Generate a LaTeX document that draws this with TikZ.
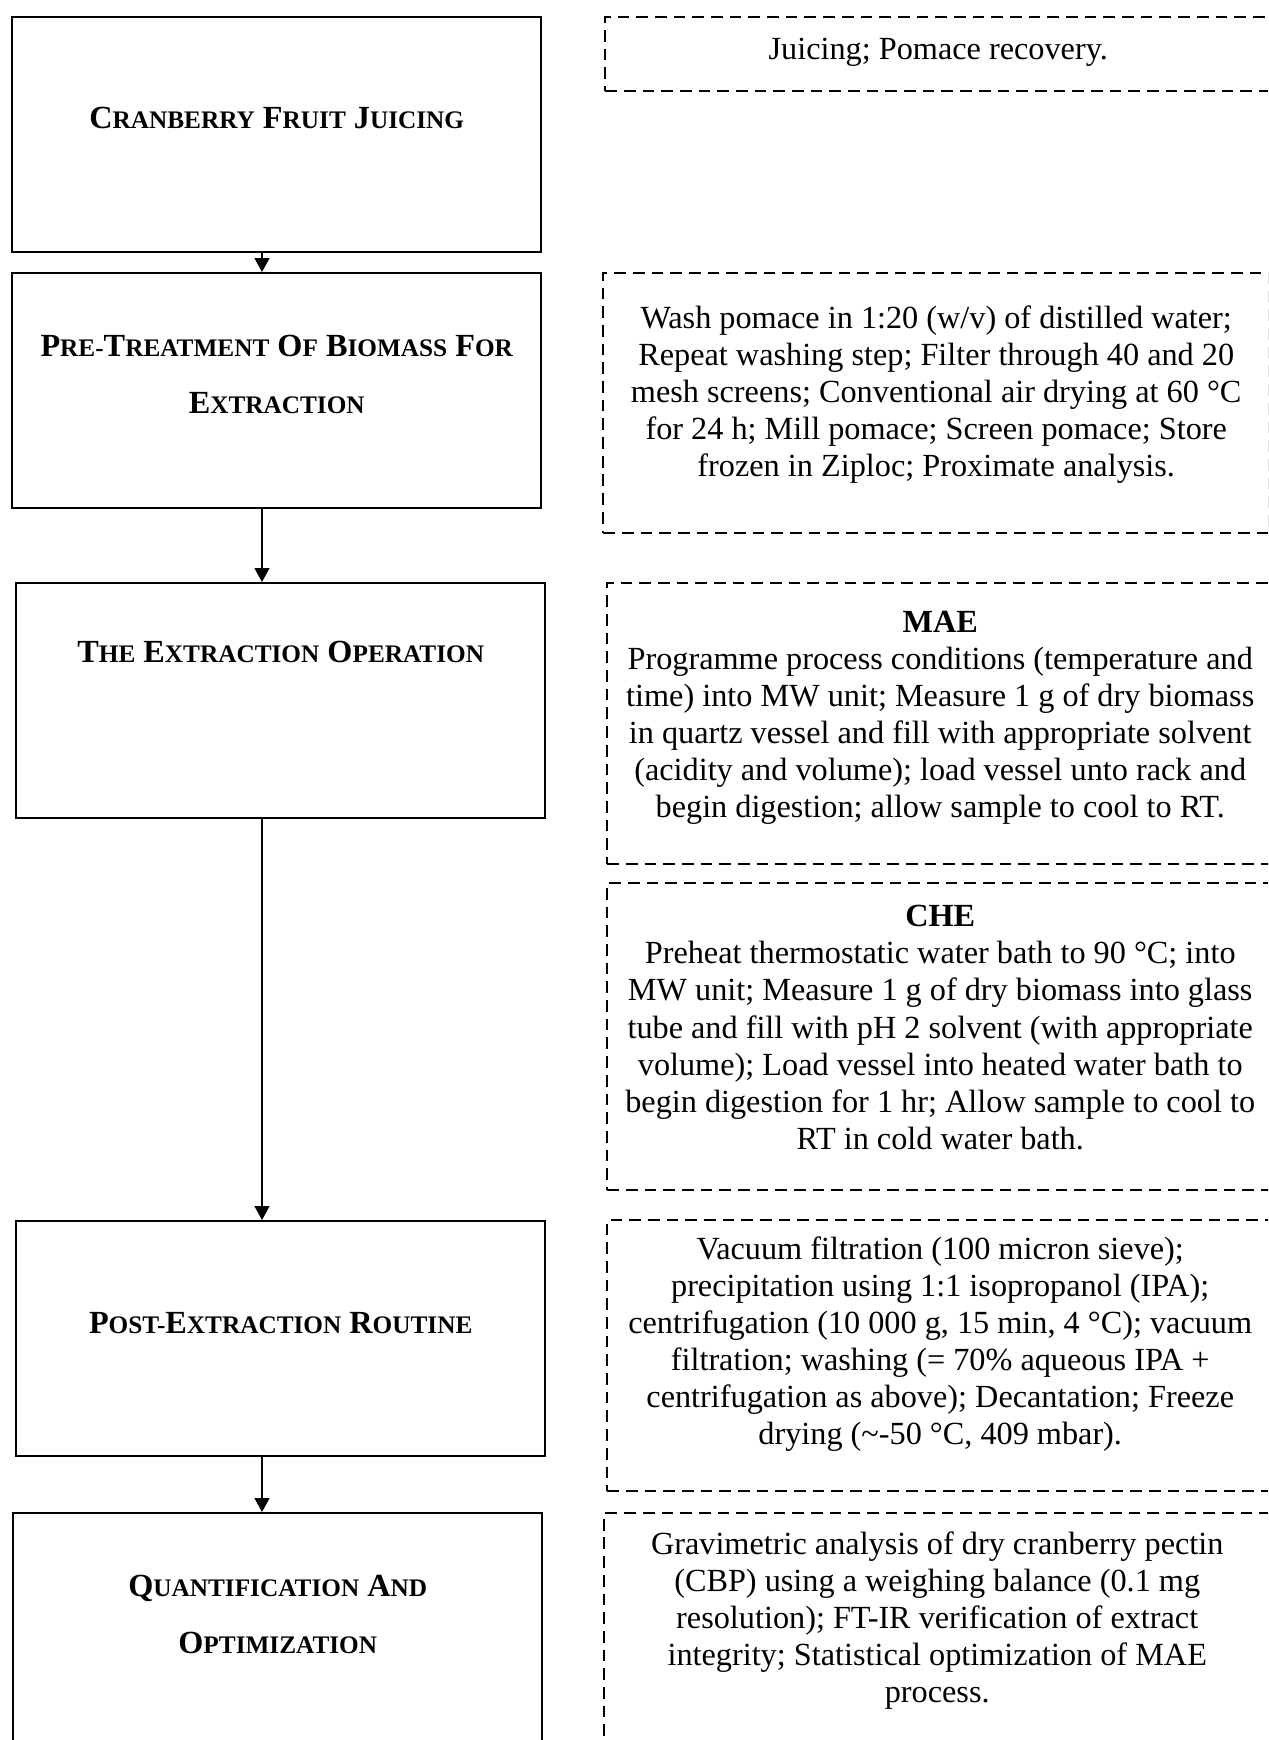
\documentclass[tikz,border=0pt]{standalone}
\usepackage{fontspec}
\setmainfont{Liberation Serif}
\usetikzlibrary{arrows.meta, positioning, calc}

% small capitals by hand (Liberation Serif has none)
\newcommand{\sck}[1]{{\fontsize{9.4}{9.4}\selectfont #1}}

\begin{document}
\begin{tikzpicture}[
    x=0.372pt, y=-0.372pt,
    stagebox/.style={
      rectangle, draw, line width=0.9pt,
      minimum width=196.8pt, minimum height=87.4pt,
      anchor=north west, inner sep=0pt
    },
    stagetitle/.style={
      font=\bfseries\fontsize{12}{21.2}\selectfont, align=center, inner sep=0pt
    },
    notebox/.style={
      rectangle, draw, line width=0.85pt, dash pattern=on 4.35pt off 2.6pt,
      minimum width=247.8pt, anchor=north west, inner sep=0pt
    },
    notetext/.style={
      font=\fontsize{12}{13.8}\selectfont, align=center,
      inner sep=0pt, execute at begin node=\strut
    },
    arr/.style={-{Triangle[length=5.2pt, width=5.6pt]}, line width=0.45pt},
  ]

  \path[use as bounding box] (0,0) rectangle (1268,1740);
  \clip (0,0) rectangle (1268,1740);

  % Stages (left column), all boxes of one size
  \node[stagebox] (juice)    at (11,15.6) {};
  \node[stagebox] (pretreat) at (11,272)  {};
  \node[stagebox] (extract)  at (15,582)  {};
  \node[stagebox] (post)     at (15,1220) {};
  \node[stagebox] (quant)    at (12,1512) {};

  \node[stagetitle, yshift=6pt] (juicet) at (juice.center)
    {C\sck{RANBERRY} F\sck{RUIT} J\sck{UICING}};
  \node[stagetitle, yshift=6pt] (pretreatt) at (pretreat.center)
    {P\sck{RE-}T\sck{REATMENT} O\sck{F} B\sck{IOMASS} F\sck{OR}\\ E\sck{XTRACTION}};
  \node[stagetitle, yshift=18pt] (extractt) at (extract.center)
    {T\sck{HE} E\sck{XTRACTION} O\sck{PERATION}};
  \node[stagetitle, yshift=6pt] (postt) at (post.center)
    {P\sck{OST-}E\sck{XTRACTION} R\sck{OUTINE}};
  \node[stagetitle, yshift=6pt] (quantt) at (quant.center)
    {Q\sck{UANTIFICATION} A\sck{ND}\\ O\sck{PTIMIZATION}};

  % Arrows run a little left of the box centres
  \coordinate (ax) at (262,0);
  \draw[arr] (juice.south -| ax) -- (pretreat.north -| ax);
  \draw[arr] (pretreat.south -| ax) -- (extract.north -| ax);
  \draw[arr] (extract.south -| ax) -- (post.north -| ax);
  \draw[arr] (post.south -| ax) -- (quant.north -| ax);

  % Notes (right column), cut by the right edge of the page
  \node[notebox, minimum height=27.7pt]  (juicen)    at (604,15.6) {};
  \node[notebox, minimum height=96.7pt]  (pretreatn) at (602,272)  {};
  \node[notebox, minimum height=104.5pt] (maen)      at (606,582)  {};
  \node[notebox, minimum height=114.2pt] (chen)      at (606,882)  {};
  \node[notebox, minimum height=100.8pt] (postn)     at (606,1219) {};
  \node[notebox, minimum height=100pt]   (quantn)    at (603,1512) {};

  \node[notetext, below=6.5pt of juicen.north] (juicex) {Juicing; Pomace recovery.};
  \node[notetext, below=12.3pt of pretreatn.north] (pretreatx)
    {Wash pomace in 1:20 (w/v) of distilled water;\\
     Repeat washing step; Filter through 40 and 20\\
     mesh screens; Conventional air drying at 60 °C\\
     for 24 h; Mill pomace; Screen pomace; Store\\
     frozen in Ziploc; Proximate analysis.};
  \node[notetext, below=10.5pt of maen.north] (maex)
    {\textbf{MAE}\\
     Programme process conditions (temperature and\\
     time) into MW unit; Measure 1 g of dry biomass\\
     in quartz vessel and fill with appropriate solvent\\
     (acidity and volume); load vessel unto rack and\\
     begin digestion; allow sample to cool to RT.};
  \node[notetext, below=8.5pt of chen.north] (chex)
    {\textbf{CHE}\\
     Preheat thermostatic water bath to 90 °C; into\\
     MW unit; Measure 1 g of dry biomass into glass\\
     tube and fill with pH 2 solvent (with appropriate\\
     volume); Load vessel into heated water bath to\\
     begin digestion for 1 hr; Allow sample to cool to\\
     RT in cold water bath.};
  \node[notetext, below=6.3pt of postn.north] (postx)
    {Vacuum filtration (100 micron sieve);\\
     precipitation using 1:1 isopropanol (IPA);\\
     centrifugation (10 000 g, 15 min, 4 °C); vacuum\\
     filtration; washing (= 70\% aqueous IPA +\\
     centrifugation as above); Decantation; Freeze\\
     drying (\textasciitilde-50 °C, 409 mbar).};
  \node[notetext, below=7.1pt of quantn.north] (quantx)
    {Gravimetric analysis of dry cranberry pectin\\
     (CBP) using a weighing balance (0.1 mg\\
     resolution); FT-IR verification of extract\\
     integrity; Statistical optimization of MAE\\
     process.};

\end{tikzpicture}
\end{document}
